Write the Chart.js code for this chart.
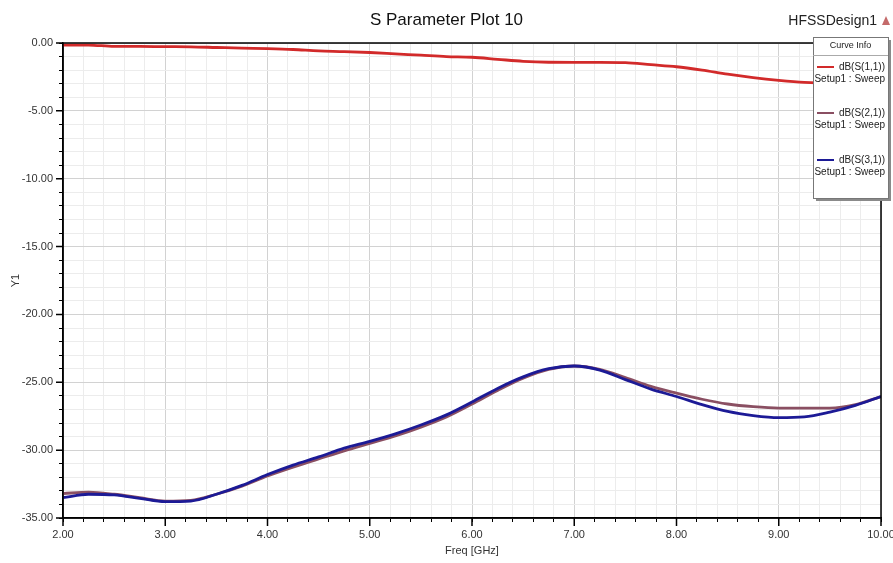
<!DOCTYPE html>
<html>
<head>
<meta charset="utf-8">
<title>S Parameter Plot 10</title>
<script src="https://cdn.jsdelivr.net/npm/chart.js@4.4.1/dist/chart.umd.min.js"></script>
<style>
  html, body { margin: 0; padding: 0; background: #fff; }
  #wrap { width: 893px; height: 563px; position: relative; }
</style>
</head>
<body>
<div id="wrap"><canvas id="chartSparam"></canvas></div>
<script>
// ── Data ──────────────────────────────────────────────────────
const freqGHz = [2.0, 2.25, 2.5, 2.75, 3.0, 3.25, 3.5, 3.75, 4.0, 4.25, 4.5, 4.75,
                 5.0, 5.25, 5.5, 5.75, 6.0, 6.25, 6.5, 6.75, 7.0, 7.25, 7.5, 7.75,
                 8.0, 8.25, 8.5, 8.75, 9.0, 9.25, 9.5, 9.75, 10.0];

const s11dB = [-0.15, -0.15, -0.25, -0.25, -0.27, -0.28, -0.33, -0.38, -0.42, -0.48, -0.58, -0.63,
               -0.70, -0.80, -0.90, -1.00, -1.05, -1.20, -1.35, -1.42, -1.43, -1.43, -1.45, -1.60,
               -1.75, -2.00, -2.30, -2.55, -2.75, -2.90, -2.95, -2.90, -2.85];

const s21dB = [-33.2, -33.1, -33.25, -33.5, -33.75, -33.7, -33.25, -32.65, -31.9, -31.25, -30.65, -30.05,
               -29.5, -28.95, -28.3, -27.55, -26.6, -25.6, -24.7, -24.05, -23.8, -24.05, -24.65, -25.3,
               -25.8, -26.25, -26.6, -26.8, -26.9, -26.9, -26.9, -26.65, -26.05];

const s31dB = [-33.5, -33.25, -33.3, -33.55, -33.8, -33.75, -33.25, -32.6, -31.8, -31.1, -30.5, -29.85,
               -29.35, -28.8, -28.15, -27.4, -26.45, -25.45, -24.6, -24.0, -23.8, -24.1, -24.8, -25.5,
               -26.05, -26.65, -27.15, -27.45, -27.6, -27.55, -27.2, -26.7, -26.05];

const curveNames  = ['dB(S(1,1))', 'dB(S(2,1))', 'dB(S(3,1))'];
const curveSetup  = 'Setup1 : Sweep';
const curveColors = ['#d22a2a', '#8a4f62', '#1c1a96'];

const xMajorTicks = [2, 3, 4, 5, 6, 7, 8, 9, 10];
const yMajorTicks = [0, -5, -10, -15, -20, -25, -30, -35];

const FONT = "'Liberation Sans', Arial, sans-serif";

// ── Helpers ───────────────────────────────────────────────────
function toPoints(xs, ys) {
  return xs.map((x, i) => ({ x: x, y: ys[i] }));
}
function isMajorX(v) { return xMajorTicks.some(m => Math.abs(m - v) < 1e-6); }
function isMajorY(v) { return yMajorTicks.some(m => Math.abs(m - v) < 1e-6); }

// ── Plugin: frame, long major ticks, HFSS label and Curve Info box ──
const hfssDecor = {
  id: 'hfssDecor',
  afterDatasetsDraw(chart) {
    const ctx = chart.ctx;
    const a   = chart.chartArea;
    const xs  = chart.scales.x;
    const ys  = chart.scales.y;

    ctx.save();
    ctx.strokeStyle = '#000';
    ctx.lineWidth = 1.5;
    ctx.strokeRect(a.left, a.top, a.right - a.left, a.bottom - a.top);

    // major ticks are longer than minor ones
    ctx.beginPath();
    xMajorTicks.forEach(v => {
      const px = xs.getPixelForValue(v);
      ctx.moveTo(px, a.bottom);
      ctx.lineTo(px, a.bottom + 8);
    });
    yMajorTicks.forEach(v => {
      const py = ys.getPixelForValue(v);
      ctx.moveTo(a.left - 7, py);
      ctx.lineTo(a.left, py);
    });
    ctx.stroke();
    ctx.restore();
  },
  afterDraw(chart) {
    const ctx = chart.ctx;
    ctx.save();

    // design name + marker
    ctx.fillStyle = '#222';
    ctx.font = '14px ' + FONT;
    ctx.textAlign = 'right';
    ctx.textBaseline = 'middle';
    ctx.fillText('HFSSDesign1', 877, 21);
    ctx.fillStyle = '#c46a6a';
    ctx.beginPath();
    ctx.moveTo(886, 16);
    ctx.lineTo(882, 25);
    ctx.lineTo(890, 25);
    ctx.closePath();
    ctx.fill();

    // Curve Info box
    const bx = 813, by = 37, bw = 75, bh = 161;
    ctx.fillStyle = '#8a8a8a';
    ctx.fillRect(bx + 3, by + 3, bw, bh);
    ctx.fillStyle = '#fff';
    ctx.fillRect(bx, by, bw, bh);
    ctx.strokeStyle = '#777';
    ctx.lineWidth = 1;
    ctx.strokeRect(bx + 0.5, by + 0.5, bw, bh);

    ctx.fillStyle = '#222';
    ctx.font = '9px ' + FONT;
    ctx.textAlign = 'center';
    ctx.fillText('Curve Info', bx + bw / 2, by + 9);
    ctx.strokeStyle = '#aaa';
    ctx.beginPath();
    ctx.moveTo(bx, by + 18.5);
    ctx.lineTo(bx + bw, by + 18.5);
    ctx.stroke();

    const rowY = [67, 113, 160];
    ctx.font = '10px ' + FONT;
    ctx.textAlign = 'right';
    curveNames.forEach((name, i) => {
      const y = rowY[i];
      ctx.strokeStyle = curveColors[i];
      ctx.lineWidth = 2;
      ctx.beginPath();
      ctx.moveTo(817, y);
      ctx.lineTo(834, y);
      ctx.stroke();
      ctx.fillStyle = '#222';
      ctx.fillText(name, 885, y);
      ctx.fillText(curveSetup, 885, y + 12);
    });
    ctx.restore();
  }
};

// ── Chart ─────────────────────────────────────────────────────
const canvasCtx = document.getElementById('chartSparam').getContext('2d');
new Chart(canvasCtx, {
  type: 'line',
  data: {
    datasets: [
      { label: curveNames[0], data: toPoints(freqGHz, s11dB), borderColor: curveColors[0], order: 0 },
      { label: curveNames[1], data: toPoints(freqGHz, s21dB), borderColor: curveColors[1], order: 2 },
      { label: curveNames[2], data: toPoints(freqGHz, s31dB), borderColor: curveColors[2], order: 1 },
    ]
  },
  options: {
    responsive: true,
    maintainAspectRatio: false,
    animation: false,
    devicePixelRatio: 1,
    layout: { padding: { left: 0, right: 0, top: 0, bottom: 0 } },
    elements: {
      point: { radius: 0 },
      line:  { borderWidth: 2.8, cubicInterpolationMode: 'monotone', fill: false }
    },
    plugins: {
      legend:  { display: false },
      tooltip: { enabled: false },
      title: {
        display: true,
        text: 'S Parameter Plot 10',
        color: '#111',
        font: { family: FONT, size: 17, weight: 'normal' },
        padding: { top: 10, bottom: 12.6 }
      }
    },
    scales: {
      x: {
        type: 'linear',
        min: 2, max: 10,
        afterFit: s => { s.height = 45; s.paddingRight = 12; },
        border: { display: true, color: '#000', width: 1.5 },
        grid: {
          color: c => isMajorX(c.tick.value) ? '#d2d2d2' : '#ececec',
          tickColor: '#000',
          tickLength: 4
        },
        ticks: {
          stepSize: 0.2,
          autoSkip: false,
          maxRotation: 0,
          padding: 6,
          color: '#333',
          font: { family: FONT, size: 11 },
          callback: v => isMajorX(v) ? Number(v).toFixed(2) : ''
        },
        title: {
          display: true,
          text: 'Freq [GHz]',
          color: '#333',
          font: { family: FONT, size: 11 },
          padding: { top: 0, bottom: 5 }
        }
      },
      y: {
        type: 'linear',
        min: -35, max: 0,
        afterFit: s => { s.width = 63; },
        border: { display: true, color: '#000', width: 1.5 },
        grid: {
          color: c => isMajorY(c.tick.value) ? '#d2d2d2' : '#ececec',
          tickColor: '#000',
          tickLength: 4
        },
        ticks: {
          stepSize: 1,
          autoSkip: false,
          padding: 6,
          color: '#333',
          font: { family: FONT, size: 11 },
          callback: v => isMajorY(v) ? Number(v).toFixed(2) : ''
        },
        title: {
          display: true,
          text: 'Y1',
          color: '#333',
          font: { family: FONT, size: 11 },
          padding: { top: 9, bottom: 0 }
        }
      }
    }
  },
  plugins: [hfssDecor]
});
</script>
</body>
</html>
